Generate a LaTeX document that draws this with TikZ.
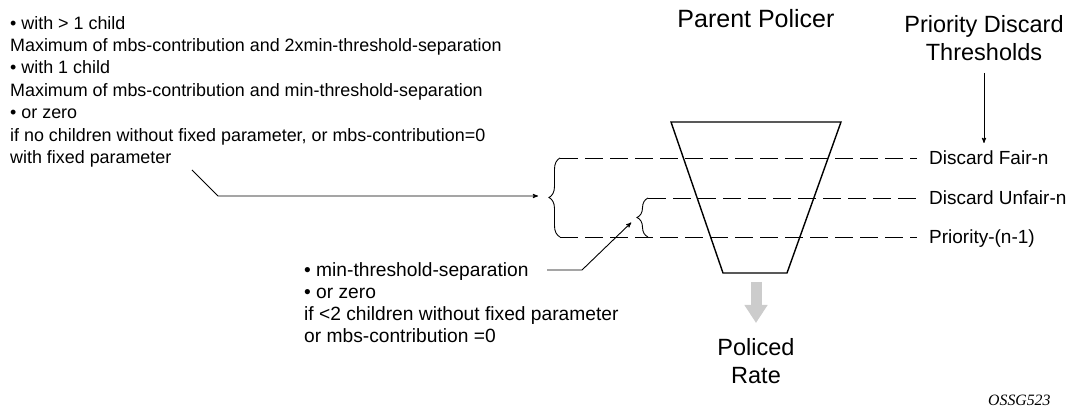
\documentclass[tikz,border=0pt]{standalone}
\usepackage{fontspec}
\setmainfont{Liberation Sans}
\newfontfamily\figfont{Liberation Serif}
\usepackage{tikz}
\usetikzlibrary{arrows}
\usetikzlibrary{arrows.meta}
\usetikzlibrary{decorations.pathreplacing}

\begin{document}
\begin{tikzpicture}[x=1pt,y=-1pt]
			\tikzset{note/.style={anchor=north west, align=left, inner sep=0pt,
					font=\fontsize{17.9}{22.4}\selectfont}}
			\tikzset{heading/.style={align=center, inner sep=0pt,
					font=\fontsize{23.5}{28}\selectfont}}
			\tikzset{level label/.style={anchor=base west, inner sep=0pt,
					font=\fontsize{19}{22}\selectfont}}
			\tikzset{level/.style={line width=0.9pt, dash pattern=on 18pt off 7pt}}
			\tikzset{brace it/.style={line width=0.9pt,
					decoration={brace, amplitude=11pt}, decorate}}
			\tikzset{pointer/.style={line width=0.9pt, -stealth'}}
			\useasboundingbox (0,0) rectangle (1072,411);
			%notes
			\node[note] (cases) at (10,16) {• with > 1 child\\
				Maximum of mbs-contribution and 2xmin-threshold-separation\\
				• with 1 child\\
				Maximum of mbs-contribution and min-threshold-separation\\
				• or zero\\
				if no children without fixed parameter, or mbs-contribution=0\\
				with fixed parameter};
			\node[note, font=\fontsize{19.2}{22}\selectfont] (minsep) at (304,262) {• min-threshold-separation\\
				• or zero\\
				if <2 children without fixed parameter\\
				or mbs-contribution =0};
			%headings
			\node[heading, anchor=base, font=\fontsize{25}{28}\selectfont] (parent) at (756,28) {Parent Policer};
			\node[heading, anchor=north] (prio) at (984,15) {Priority Discard\\Thresholds};
			\node[heading, anchor=north] (policed) at (756,338) {Policed\\Rate};
			\node[anchor=base west, inner sep=0pt, font=\figfont\itshape\fontsize{15.8}{18}\selectfont]
				(fig) at (988,406) {OSSG523};
			%threshold labels
			\node[level label] (fair) at (929,164.5) {Discard Fair-n};
			\node[level label] (unfair) at (929,204.5) {Discard Unfair-n};
			\node[level label] (prio1) at (929,243.5) {Priority-(n-1)};
			%policer bucket
			\draw[line width=1.4pt, line join=miter] (671,122) -- (841,122) -- (787,273) -- (723,273) -- cycle;
			\coordinate (spout) at (756,282);
			%threshold levels
			\coordinate (fairL) at (560,158);
			\coordinate (unfairL) at (648,198);
			\coordinate (prioL) at (560,237);
			\coordinate (prioM) at (648,237);
			\coordinate (fairR) at (917,158);
			\coordinate (unfairR) at (917,198);
			\coordinate (prioR) at (917,237);
			\draw[level] (fairL) -- (fairR);
			\draw[level] (unfairL) -- (unfairR);
			\draw[level] (prioL) -- (prioR);
			\draw[brace it] (prioL) -- (fairL);
			\draw[brace it] (prioM) -- (unfairL);
			\coordinate (bigtip) at (549,196);
			\coordinate (smalltip) at (637,217);
			%leaders
			\coordinate (c1) at (192,170);
			\coordinate (c2) at (218,196);
			\coordinate (m1) at (547,270);
			\coordinate (m2) at (582,270);
			\draw[pointer, shorten >=11pt] (c1) -- (c2) -- (bigtip);
			\draw[pointer, shorten >=8pt] (m1) -- (m2) -- (smalltip);
			\coordinate (p1) at (984,73);
			\coordinate (p2) at (984,143);
			\draw[pointer] (p1) -- (p2);
			%output
			\draw[line width=11pt, gray!40, -{Triangle[width=22pt, length=18pt]}]
				(spout) -- ([yshift=15pt]policed.north);
\end{tikzpicture}
\end{document}
